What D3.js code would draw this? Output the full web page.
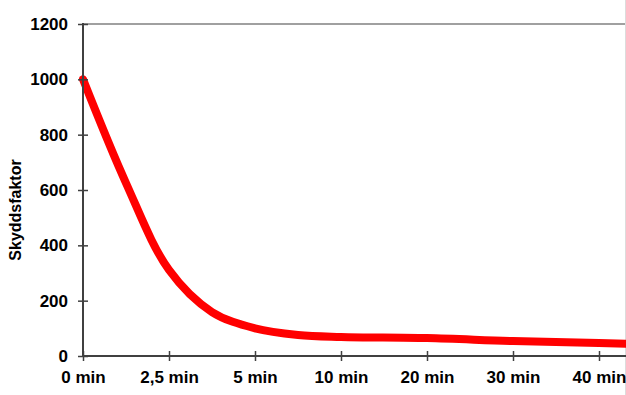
<!DOCTYPE html>
<html>
<head>
<meta charset="utf-8">
<script src="https://cdn.jsdelivr.net/npm/d3@7"></script>
<style>
  body { margin: 0; background: #fff; }
  svg { display: block; font-family: "Liberation Sans", Arial, sans-serif; }
</style>
</head>
<body>
<svg id="chart" width="626" height="395"></svg>
<script>
// category labels on the x axis (equally spaced)
const xLabels = ["0 min", "2,5 min", "5 min", "10 min", "20 min", "30 min", "40 min"];
// sample positions (in category steps) and values
const xSteps = [0, 0.5, 1, 1.5, 2, 2.5, 3, 4, 5, 6, 7];
const protection = [1000, 625, 311, 159, 100, 76, 69, 65, 54, 47, 38];
const yTicks = [0, 200, 400, 600, 800, 1000, 1200];

const largeur = 626, hauteur = 395;
const plotLeft = 83, plotTop = 24, plotBottom = 356;
const axisColor = "#404040";

const svg = d3.select("#chart");

const x = d3.scaleLinear().domain([0, 6]).range([plotLeft, 599]);
const y = d3.scaleLinear().domain([0, 1200]).range([plotBottom, plotTop]);

// frame: top border and right edge
svg.append("line")
    .attr("x1", plotLeft).attr("x2", 625)
    .attr("y1", plotTop).attr("y2", plotTop)
    .attr("stroke", "#a0a0a0").attr("stroke-width", 2);

svg.append("line")
    .attr("x1", 625.5).attr("x2", 625.5)
    .attr("y1", 0).attr("y2", hauteur)
    .attr("stroke", "#dcdcdc").attr("stroke-width", 1);

// red curve
const points = xSteps.map((s, i) => [x(s), y(protection[i])]);
svg.append("path")
    .datum(points)
    .attr("fill", "none")
    .attr("stroke", "#ff0000")
    .attr("stroke-width", 8)
    .attr("stroke-linejoin", "round")
    .attr("stroke-linecap", "round")
    .attr("d", d3.line().curve(d3.curveCatmullRom.alpha(0.5)));

// y axis
const yAxis = svg.append("g")
    .attr("transform", "translate(" + plotLeft + ",0)")
    .call(d3.axisLeft(y).tickValues(yTicks).tickFormat(d3.format("d"))
        .tickSize(5).tickSizeOuter(0).tickPadding(10));

yAxis.select(".domain").remove();
yAxis.selectAll(".tick line").attr("x1", 5).attr("stroke", axisColor).attr("stroke-width", 1.5);
yAxis.selectAll(".tick text")
    .attr("fill", "#000")
    .style("font-size", "17px")
    .style("font-weight", "bold");

svg.append("line")
    .attr("x1", plotLeft).attr("x2", plotLeft)
    .attr("y1", plotTop - 1).attr("y2", plotBottom + 1)
    .attr("stroke", axisColor).attr("stroke-width", 2);

// x axis
const xAxis = svg.append("g")
    .attr("transform", "translate(0," + plotBottom + ")")
    .call(d3.axisBottom(x).tickValues(d3.range(xLabels.length))
        .tickFormat((d) => xLabels[d]).tickSize(5).tickSizeOuter(0).tickPadding(10));

xAxis.select(".domain").remove();
xAxis.selectAll(".tick line").attr("y1", -5).attr("stroke", axisColor).attr("stroke-width", 1.5);
xAxis.selectAll(".tick text")
    .attr("fill", "#000")
    .style("font-size", "17px")
    .style("font-weight", "bold");

svg.append("line")
    .attr("x1", plotLeft - 1).attr("x2", largeur)
    .attr("y1", plotBottom).attr("y2", plotBottom)
    .attr("stroke", axisColor).attr("stroke-width", 2);

// axis title
svg.append("text")
    .text("Skyddsfaktor")
    .attr("transform", "translate(21,210) rotate(-90)")
    .attr("text-anchor", "middle")
    .style("font-size", "16px")
    .style("font-weight", "bold")
    .attr("fill", "#000");
</script>
</body>
</html>
